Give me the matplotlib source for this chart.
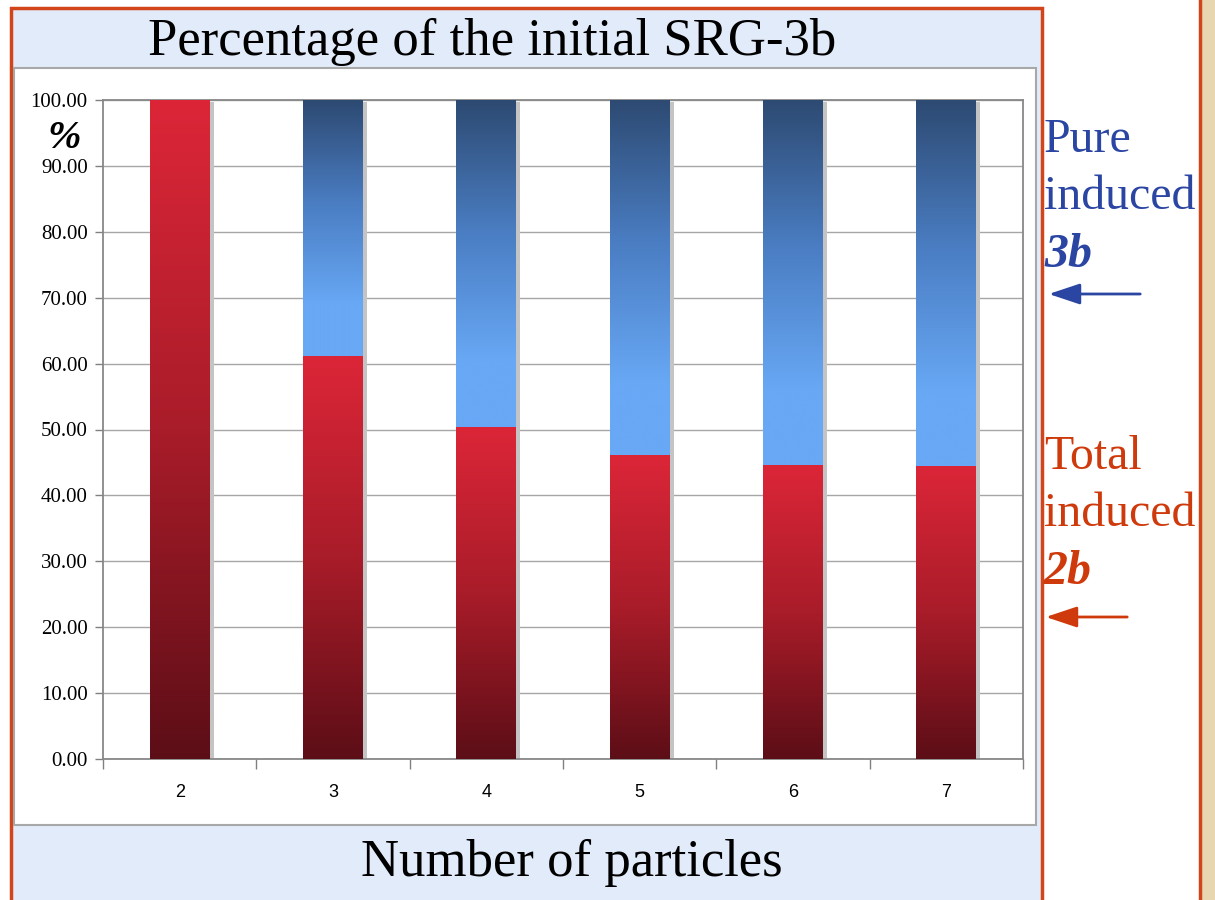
import numpy as np
import matplotlib.pyplot as plt
from matplotlib.colors import LinearSegmentedColormap
from matplotlib.patches import Rectangle, FancyArrowPatch

# stacked shares, in percent of the initial SRG-3b
particles = ["2", "3", "4", "5", "6", "7"]
total_2b = [100.0, 61.2, 50.4, 46.1, 44.6, 44.5]
pure_3b = [100.0 - v for v in total_2b]
y_ticks = np.arange(0, 101, 10)

W, H = 1215, 900


def fx(x):
    return x / W


def fy(y):
    return 1 - y / H


red_cmap = LinearSegmentedColormap.from_list(
    "red2b", [(0, "#5C0E17"), (0.5, "#A91C29"), (1, "#DC2638")])
blue_cmap = LinearSegmentedColormap.from_list(
    "blue3b", [(0, "#68A8F5"), (0.2, "#68A8F5"), (0.6, "#4A7DC2"), (1, "#2D4A72")])

fig = plt.figure(figsize=(12.15, 9), dpi=100)

# frame pieces around the chart
fig.add_artist(Rectangle((fx(1202), 0), 1 - fx(1202), 1, transform=fig.transFigure,
                         facecolor="#E7D6B0", edgecolor="none", zorder=0))
fig.add_artist(plt.Line2D([fx(1200), fx(1200)], [0, 1], transform=fig.transFigure,
                          color="#D2441A", lw=2.5, zorder=1))
fig.add_artist(Rectangle((fx(11), fy(915)), fx(1042) - fx(11), fy(8) - fy(915),
                         transform=fig.transFigure, facecolor="#E2EBF9",
                         edgecolor="#D2441A", lw=2.5, zorder=0))
fig.add_artist(Rectangle((fx(14), fy(825)), fx(1036) - fx(14), fy(68) - fy(825),
                         transform=fig.transFigure, facecolor="white",
                         edgecolor="#A8A8A8", lw=1.5, zorder=0))

ax = fig.add_axes([fx(103), fy(759), fx(1023) - fx(103), fy(100) - fy(759)])
ax.set_facecolor("white")

x = np.arange(len(particles))
width = 0.39
red_bars = ax.bar(x, total_2b, width, color="none", zorder=3)
blue_bars = ax.bar(x, pure_3b, width, bottom=total_2b, color="none", zorder=3)

# one shadow per stacked column
dx = 4 / 153.3
dy = 2 / 6.59
for r, b in zip(red_bars, blue_bars):
    top = b.get_y() + b.get_height()
    ax.add_patch(Rectangle((r.get_x() + dx, 0), r.get_width(), top - dy,
                           facecolor="#C4C4C4", edgecolor="none", zorder=2))

# gradient fills for each segment
grad = np.linspace(0, 1, 256).reshape(-1, 1)
for bars, cmap in [(red_bars, red_cmap), (blue_bars, blue_cmap)]:
    for b in bars:
        x0, y0, w, h = b.get_x(), b.get_y(), b.get_width(), b.get_height()
        if h <= 0:
            continue
        ax.imshow(grad, extent=[x0, x0 + w, y0, y0 + h], origin="lower",
                  cmap=cmap, aspect="auto", zorder=3, interpolation="bicubic")

ax.set_xlim(-0.5, len(particles) - 0.5)
ax.set_ylim(0, 100)
ax.set_aspect("auto")

ax.set_yticks(y_ticks)
ax.set_yticklabels([f"{v:.2f}" for v in y_ticks], fontfamily="Liberation Serif", fontsize=15)
ax.set_xticks(x)
ax.set_xticklabels(particles, fontfamily="Liberation Sans", fontsize=13)
ax.set_xticks(np.arange(-0.5, len(particles), 1), minor=True)
ax.tick_params(axis="x", which="major", length=0, pad=18)
ax.tick_params(axis="x", which="minor", length=7, color="#808080", width=1)
ax.tick_params(axis="y", length=6, color="#808080", width=1, pad=5)
ax.grid(axis="y", color="#A6A6A6", lw=1)
ax.set_axisbelow(True)
for s in ax.spines.values():
    s.set_color("#888888")
    s.set_linewidth(1.3)

fig.text(fx(64), fy(138), "%", fontfamily="Liberation Serif", fontsize=29,
         fontweight="bold", fontstyle="italic", ha="center", va="center")

fig.text(fx(492), fy(42), "Percentage of the initial SRG-3b",
         fontfamily="Liberation Serif", fontsize=38, ha="center", va="center")
fig.text(fx(572), fy(863), "Number of particles",
         fontfamily="Liberation Serif", fontsize=38, ha="center", va="center")

# side notes with arrows
blue = "#2B45A3"
orange = "#CF3A0C"
for y, s, kw in [(140, "Pure", {}), (197, "induced", {}),
                 (255, "3b", {"fontweight": "bold", "fontstyle": "italic"})]:
    fig.text(fx(1044), fy(y), s, color=blue, fontfamily="Liberation Serif",
             fontsize=34.5, ha="left", va="center", **kw)
for y, s, kw in [(457, "Total", {}), (514, "induced", {}),
                 (572, "2b", {"fontweight": "bold", "fontstyle": "italic"})]:
    fig.text(fx(1044), fy(y), s, color=orange, fontfamily="Liberation Serif",
             fontsize=34.5, ha="left", va="center", **kw)

fig.add_artist(FancyArrowPatch(
    (fx(1143), fy(294)), (fx(1046), fy(294)), transform=fig.transFigure,
    arrowstyle="-|>,head_length=12,head_width=4", mutation_scale=1.6,
    color=blue, lw=2))
fig.add_artist(FancyArrowPatch(
    (fx(1130), fy(617)), (fx(1043), fy(617)), transform=fig.transFigure,
    arrowstyle="-|>,head_length=12,head_width=4", mutation_scale=1.6,
    color=orange, lw=2))

fig.savefig("out.png", dpi=100)
